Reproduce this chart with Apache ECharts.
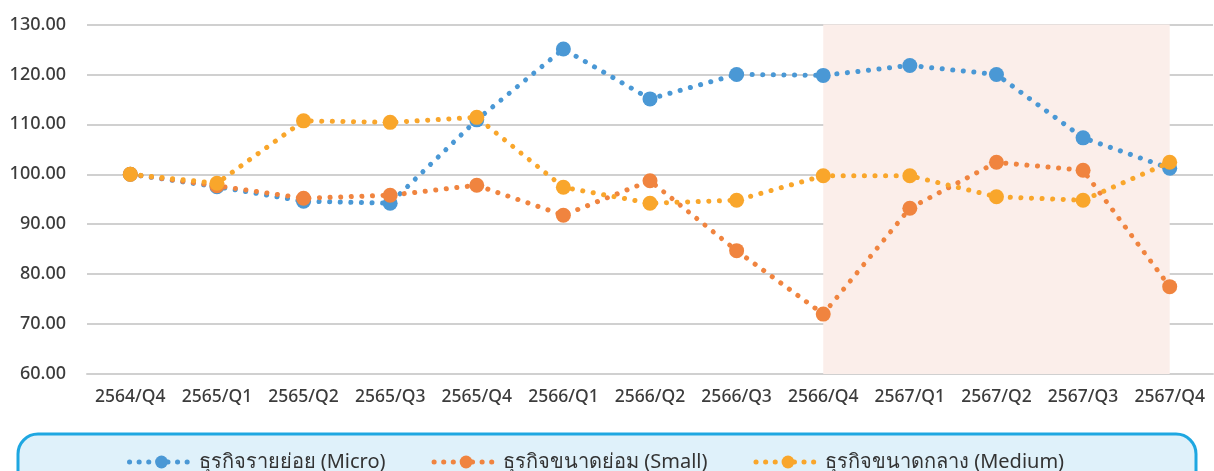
<!DOCTYPE html>
<html>
<head>
<meta charset="utf-8">
<script src="https://cdn.jsdelivr.net/npm/echarts@6/dist/echarts.min.js"></script>
<style>
  html, body { margin: 0; padding: 0; background: #fff; }
  #main { width: 1214px; height: 471px; }
</style>
</head>
<body>
<div id="main"></div>
<script>
var quarters = ['2564/Q4','2565/Q1','2565/Q2','2565/Q3','2565/Q4','2566/Q1','2566/Q2','2566/Q3','2566/Q4','2567/Q1','2567/Q2','2567/Q3','2567/Q4'];
var microVals  = [100, 97.5, 94.6, 94.2, 110.9, 125.1, 115.1, 120.0, 119.8, 121.8, 120.0, 107.3, 101.2];
var smallVals  = [100, 97.7, 95.2, 95.8, 97.8, 91.8, 98.7, 84.7, 72.0, 93.2, 102.4, 100.8, 77.5];
var mediumVals = [100, 98.2, 110.7, 110.4, 111.4, 97.4, 94.2, 94.8, 99.7, 99.7, 95.5, 94.8, 102.4];
var seriesNames = ['ธุรกิจรายย่อย (Micro)', 'ธุรกิจขนาดย่อม (Small)', 'ธุรกิจขนาดกลาง (Medium)'];
var colors = ['#4a98d5', '#f0843f', '#f9a62b'];

var chart = echarts.init(document.getElementById('main'));

function makeSeries(idx, data) {
  return {
    name: seriesNames[idx],
    type: 'line',
    data: data,
    symbol: 'circle',
    symbolSize: 15,
    itemStyle: { color: colors[idx] },
    lineStyle: { color: colors[idx], width: 5, type: [0.1, 10.5], cap: 'round' },
    z: 3 + idx
  };
}

var s1 = makeSeries(0, microVals);
s1.markArea = {
  silent: true,
  itemStyle: { color: '#fbeeea' },
  data: [[{ xAxis: '2566/Q4', yAxis: 130 }, { xAxis: '2567/Q4', yAxis: 60 }]]
};

var option = {
  animation: false,
  color: colors,
  grid: { left: 87, right: 1, top: 24.5, bottom: 97 },
  graphic: [{
    type: 'rect',
    z: -10,
    shape: { x: 18, y: 434, width: 1178, height: 70, r: 20 },
    style: { fill: '#dff1fa', stroke: '#1ea7e1', lineWidth: 3 }
  }],
  legend: {
    top: 447,
    left: 122,
    itemGap: 46,
    itemWidth: 64,
    itemHeight: 16,
    lineStyle: { width: 5, type: [0.1, 9.5], cap: 'round' },
    textStyle: { fontSize: 20, color: '#333', fontFamily: 'Noto Sans, sans-serif' },
    data: seriesNames
  },
  xAxis: {
    type: 'category',
    data: quarters,
    boundaryGap: true,
    axisLine: { show: true, lineStyle: { color: '#d0d0d0', width: 2 } },
    axisTick: { show: false },
    axisLabel: { interval: 0, color: '#3c3c3c', fontSize: 17.5, margin: 14, fontWeight: 500, fontFamily: 'Noto Sans, sans-serif' }
  },
  yAxis: {
    type: 'value',
    min: 60,
    max: 130,
    interval: 10,
    axisLine: { show: false },
    axisTick: { show: false },
    splitLine: { lineStyle: { color: '#d0d0d0', width: 2 } },
    axisLabel: {
      color: '#3c3c3c', fontSize: 18, margin: 21, fontWeight: 500, fontFamily: 'Noto Sans, sans-serif',
      formatter: function (v) { return v.toFixed(2); }
    }
  },
  series: [s1, makeSeries(1, smallVals), makeSeries(2, mediumVals)]
};

chart.setOption(option);
</script>
</body>
</html>
